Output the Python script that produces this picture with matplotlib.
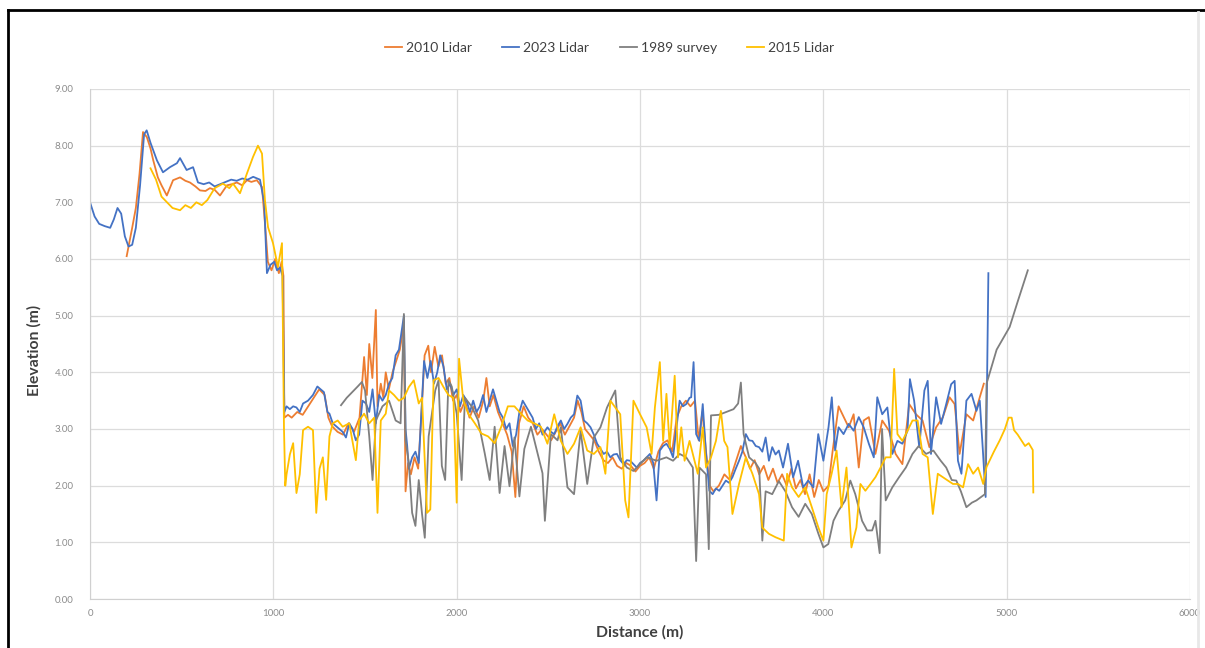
import numpy as np
import matplotlib.pyplot as plt
from matplotlib.lines import Line2D

plt.rcParams['font.family'] = ['Lato', 'DejaVu Sans']

# 2010 Lidar profile
x_2010 = [200, 215, 230, 250, 270, 289, 310, 330, 345, 370, 390, 419, 453, 491, 520, 545, 575, 600,
          630, 654, 680, 709, 747, 775, 801, 830, 856, 880, 910, 938, 955, 970, 990, 1010, 1030, 1045,
          1055, 1060, 1080, 1100, 1130, 1160, 1190, 1220, 1250, 1280, 1300, 1320, 1350, 1380, 1410,
          1440, 1470, 1495, 1510, 1523, 1540, 1559, 1568, 1586, 1600, 1613, 1630, 1650, 1670, 1690,
          1705, 1712, 1721, 1735, 1750, 1770, 1790, 1810, 1825, 1845, 1860, 1880, 1900, 1920, 1940,
          1960, 1980, 2000, 2020, 2045, 2070, 2095, 2120, 2145, 2162, 2180, 2200, 2225, 2250, 2275,
          2300, 2320, 2340, 2365, 2390, 2415, 2440, 2465, 2490, 2515, 2540, 2565, 2590, 2615, 2640,
          2660, 2680, 2700, 2725, 2750, 2775, 2800, 2825, 2850, 2875, 2900, 2925, 2950, 2975, 3000,
          3025, 3050, 3075, 3100, 3125, 3150, 3175, 3200, 3225, 3250, 3275, 3300, 3320, 3340, 3360,
          3380, 3400, 3430, 3460, 3490, 3520, 3550, 3577, 3600, 3625, 3650, 3675, 3700, 3725, 3750,
          3775, 3800, 3825, 3850, 3875, 3900, 3925, 3950, 3975, 4000, 4028, 4050, 4083, 4110, 4138,
          4165, 4193, 4220, 4248, 4284, 4321, 4358, 4394, 4431, 4468, 4505, 4541, 4578, 4615, 4652,
          4688, 4716, 4743, 4780, 4817, 4853, 4875]
y_2010 = [6.05, 6.30, 6.55, 6.90, 7.50, 8.24, 8.15, 7.95, 7.74, 7.44, 7.30, 7.12, 7.39, 7.44, 7.38,
          7.35, 7.28, 7.21, 7.20, 7.25, 7.22, 7.12, 7.30, 7.32, 7.35, 7.30, 7.39, 7.36, 7.39, 7.27,
          6.60, 5.95, 5.80, 6.00, 5.75, 5.95, 5.70, 3.20, 3.25, 3.20, 3.30, 3.25, 3.40, 3.55, 3.70,
          3.60, 3.20, 3.05, 2.95, 2.90, 3.10, 2.95, 3.20, 4.27, 3.60, 4.50, 3.90, 5.10, 3.40, 3.80,
          3.55, 4.00, 3.70, 4.00, 4.20, 4.40, 4.70, 4.90, 1.90, 2.40, 2.20, 2.50, 2.30, 3.40, 4.30,
          4.47, 4.00, 4.45, 4.10, 4.30, 3.80, 3.90, 3.50, 3.60, 3.30, 3.50, 3.20, 3.40, 3.20, 3.50,
          3.90, 3.40, 3.60, 3.30, 3.10, 2.90, 2.60, 1.80, 3.10, 3.40, 3.20, 3.10, 2.90, 3.00, 2.90,
          2.80, 2.95, 3.10, 2.90, 3.05, 3.20, 3.50, 3.30, 3.00, 2.90, 2.80, 2.60, 2.45, 2.40, 2.50,
          2.35, 2.30, 2.40, 2.35, 2.25, 2.35, 2.40, 2.50, 2.30, 2.60, 2.75, 2.80, 2.60, 3.20, 3.40,
          3.50, 3.40, 3.50, 2.80, 3.30, 2.60, 2.00, 1.90, 2.00, 2.20, 2.10, 2.40, 2.70, 2.50, 2.30,
          2.45, 2.20, 2.35, 2.10, 2.30, 2.05, 2.20, 2.00, 2.30, 1.95, 2.10, 1.85, 2.20, 1.80, 2.10,
          1.90, 2.00, 2.60, 3.40, 3.22, 3.03, 3.26, 2.32, 3.15, 3.21, 2.56, 3.15, 2.97, 2.56, 2.38,
          3.44, 3.26, 3.15, 2.68, 3.03, 3.21, 3.56, 3.44, 2.56, 3.26, 3.15, 3.56, 3.80]

# 2023 Lidar profile
x_2023 = [0, 25, 50, 80, 110, 130, 150, 170, 190, 210, 230, 250, 273, 295, 309, 330, 365, 398, 436,
          474, 491, 527, 562, 589, 620, 650, 680, 710, 740, 770, 800, 830, 860, 890, 927, 950, 965,
          985, 1005, 1020, 1036, 1050, 1060, 1072, 1090, 1108, 1126, 1144, 1162, 1189, 1216, 1240,
          1258, 1276, 1295, 1306, 1324, 1342, 1360, 1378, 1396, 1414, 1432, 1450, 1468, 1486, 1505,
          1523, 1541, 1559, 1577, 1595, 1613, 1631, 1649, 1667, 1685, 1703, 1712, 1721, 1730, 1739,
          1757, 1775, 1793, 1811, 1822, 1840, 1858, 1876, 1894, 1910, 1928, 1946, 1964, 1982, 2000,
          2018, 2036, 2054, 2072, 2090, 2108, 2126, 2144, 2162, 2180, 2198, 2216, 2234, 2252, 2270,
          2288, 2306, 2324, 2342, 2360, 2378, 2396, 2414, 2432, 2450, 2468, 2495, 2514, 2532, 2550,
          2568, 2586, 2604, 2622, 2640, 2658, 2676, 2694, 2712, 2730, 2748, 2766, 2784, 2802, 2820,
          2838, 2856, 2874, 2892, 2910, 2928, 2946, 2964, 2982, 3000, 3018, 3036, 3054, 3072, 3090,
          3108, 3126, 3144, 3162, 3180, 3198, 3216, 3234, 3252, 3270, 3279, 3292, 3306, 3324, 3342,
          3360, 3378, 3396, 3414, 3432, 3450, 3468, 3486, 3504, 3522, 3540, 3558, 3577, 3595, 3613,
          3631, 3649, 3667, 3685, 3703, 3721, 3739, 3757, 3780, 3807, 3835, 3862, 3890, 3917, 3945,
          3972, 4000, 4028, 4046, 4064, 4083, 4110, 4138, 4165, 4193, 4220, 4248, 4275, 4294, 4321,
          4349, 4376, 4404, 4431, 4459, 4472, 4495, 4523, 4551, 4569, 4587, 4615, 4642, 4670, 4697,
          4716, 4734, 4753, 4780, 4808, 4835, 4853, 4870, 4885, 4900]
y_2023 = [7.00, 6.75, 6.62, 6.58, 6.55, 6.70, 6.90, 6.80, 6.40, 6.22, 6.25, 6.55, 7.30, 8.20, 8.27,
          8.05, 7.74, 7.53, 7.62, 7.69, 7.78, 7.57, 7.62, 7.35, 7.32, 7.35, 7.28, 7.32, 7.36, 7.40,
          7.38, 7.42, 7.40, 7.45, 7.40, 7.00, 5.75, 5.90, 5.95, 5.80, 5.85, 5.70, 3.30, 3.40, 3.35,
          3.40, 3.38, 3.30, 3.45, 3.50, 3.60, 3.75, 3.70, 3.65, 3.30, 3.27, 3.10, 3.05, 3.00, 2.95,
          2.85, 3.10, 3.00, 2.80, 2.90, 3.50, 3.45, 3.30, 3.70, 3.10, 3.60, 3.50, 3.60, 3.80, 3.90,
          4.30, 4.40, 4.80, 5.00, 3.00, 2.70, 2.30, 2.50, 2.60, 2.40, 3.50, 4.20, 3.90, 4.20, 3.80,
          4.00, 4.30, 4.10, 3.70, 3.80, 3.60, 3.70, 3.40, 3.60, 3.50, 3.30, 3.50, 3.30, 3.40, 3.60,
          3.30, 3.50, 3.70, 3.50, 3.30, 3.20, 3.00, 3.10, 2.70, 2.90, 3.30, 3.50, 3.40, 3.30, 3.20,
          3.00, 3.10, 2.90, 3.03, 2.95, 2.91, 3.05, 3.15, 3.00, 3.09, 3.20, 3.26, 3.59, 3.50, 3.15,
          3.10, 3.03, 2.90, 2.74, 2.65, 2.56, 2.60, 2.50, 2.55, 2.56, 2.45, 2.38, 2.45, 2.44, 2.38,
          2.32, 2.40, 2.44, 2.50, 2.56, 2.40, 1.74, 2.62, 2.70, 2.74, 2.65, 2.50, 3.00, 3.50, 3.40,
          3.44, 3.55, 3.56, 4.18, 2.91, 2.79, 3.44, 2.56, 1.91, 1.85, 1.95, 1.91, 2.00, 2.09, 2.05,
          2.15, 2.30, 2.44, 2.60, 2.91, 2.80, 2.79, 2.70, 2.68, 2.60, 2.85, 2.44, 2.68, 2.55, 2.62,
          2.32, 2.74, 2.15, 2.44, 1.97, 2.09, 1.97, 2.91, 2.44, 3.03, 3.56, 2.62, 3.03, 2.91, 3.09,
          2.97, 3.21, 3.03, 2.74, 2.50, 3.56, 3.26, 3.38, 2.56, 2.79, 2.74, 2.97, 3.88, 3.50, 2.68,
          3.68, 3.85, 2.56, 3.56, 3.09, 3.44, 3.79, 3.85, 2.44, 2.21, 3.50, 3.62, 3.32, 3.50, 2.62,
          1.80, 5.75]

# 1989 survey profile
x_1989 = [1369, 1400, 1430, 1460, 1483, 1500, 1523, 1541, 1559, 1595, 1631, 1667, 1694, 1712, 1721,
          1739, 1757, 1775, 1793, 1811, 1826, 1847, 1865, 1883, 1901, 1919, 1937, 1955, 1973, 2000,
          2027, 2045, 2081, 2117, 2153, 2180, 2207, 2234, 2261, 2288, 2315, 2342, 2369, 2405, 2441,
          2468, 2481, 2514, 2550, 2568, 2604, 2640, 2676, 2712, 2748, 2784, 2820, 2865, 2892, 2928,
          2964, 3000, 3036, 3090, 3144, 3180, 3216, 3252, 3288, 3306, 3324, 3360, 3375, 3387, 3430,
          3470, 3510, 3535, 3550, 3565, 3595, 3630, 3650, 3667, 3685, 3721, 3757, 3793, 3829, 3865,
          3901, 3937, 3973, 4000, 4027, 4055, 4083, 4119, 4147, 4174, 4211, 4239, 4266, 4284, 4307,
          4320, 4340, 4376, 4413, 4450, 4486, 4520, 4560, 4600, 4640, 4670, 4700, 4725, 4750, 4780,
          4810, 4835, 4860, 4881, 4890, 4945, 5016, 5060, 5115]
y_1989 = [3.42, 3.55, 3.65, 3.75, 3.83, 3.68, 2.87, 2.10, 3.15, 3.40, 3.50, 3.15, 3.10, 5.03, 2.80,
          2.40, 1.52, 1.29, 2.10, 1.50, 1.08, 2.87, 3.27, 3.68, 3.86, 2.35, 2.10, 3.86, 3.75, 3.27,
          2.10, 3.55, 3.40, 3.15, 2.57, 2.10, 3.04, 1.87, 2.70, 1.99, 2.85, 1.81, 2.65, 3.04, 2.57,
          2.22, 1.38, 2.91, 2.80, 3.03, 1.97, 1.85, 2.97, 2.03, 2.85, 3.03, 3.38, 3.68, 2.50, 2.32,
          2.26, 2.38, 2.50, 2.44, 2.50, 2.44, 2.56, 2.50, 2.32, 0.67, 2.32, 2.20, 0.88, 3.24, 3.25,
          3.30, 3.35, 3.45, 3.82, 2.91, 2.50, 2.40, 2.30, 1.03, 1.90, 1.85, 2.08, 1.90, 1.62, 1.45,
          1.68, 1.50, 1.15, 0.91, 0.97, 1.38, 1.56, 1.74, 2.09, 1.85, 1.38, 1.21, 1.21, 1.38, 0.81,
          3.00, 1.74, 1.97, 2.15, 2.32, 2.56, 2.70, 2.56, 2.62, 2.44, 2.32, 2.10, 2.09, 1.90, 1.62,
          1.70, 1.74, 1.80, 1.85, 3.80, 4.40, 4.80, 5.25, 5.80]

# 2015 Lidar profile
x_2015 = [330, 360, 390, 420, 450, 491, 520, 550, 580, 610, 640, 680, 725, 760, 780, 818, 856, 889,
          916, 938, 954, 971, 998, 1025, 1047, 1058, 1065, 1072, 1090, 1108, 1126, 1144, 1162, 1189,
          1216, 1234, 1252, 1270, 1288, 1306, 1324, 1351, 1378, 1414, 1450, 1468, 1495, 1523, 1550,
          1568, 1586, 1613, 1631, 1658, 1685, 1712, 1739, 1766, 1793, 1811, 1838, 1856, 1874, 1901,
          1928, 1955, 1982, 2000, 2013, 2036, 2063, 2099, 2135, 2171, 2207, 2243, 2279, 2315, 2351,
          2387, 2423, 2459, 2495, 2532, 2568, 2604, 2640, 2676, 2712, 2748, 2784, 2811, 2838, 2865,
          2892, 2919, 2937, 2964, 3000, 3036, 3063, 3081, 3108, 3126, 3144, 3162, 3189, 3207, 3225,
          3243, 3270, 3288, 3315, 3342, 3360, 3387, 3414, 3441, 3459, 3477, 3504, 3540, 3577, 3613,
          3649, 3667, 3703, 3739, 3784, 3802, 3829, 3865, 3901, 3937, 3973, 4000, 4018, 4045, 4072,
          4099, 4126, 4153, 4180, 4202, 4229, 4257, 4284, 4312, 4340, 4367, 4386, 4404, 4431, 4459,
          4486, 4514, 4541, 4569, 4597, 4624, 4651, 4679, 4707, 4734, 4762, 4789, 4817, 4844, 4872,
          4890, 4930, 4962, 4990, 5010, 5027, 5040, 5060, 5080, 5100, 5120, 5142, 5145]
y_2015 = [7.60, 7.40, 7.10, 7.00, 6.90, 6.86, 6.95, 6.90, 7.00, 6.95, 7.04, 7.25, 7.33, 7.25, 7.33,
          7.16, 7.51, 7.80, 8.00, 7.86, 7.04, 6.56, 6.28, 5.86, 6.28, 3.00, 2.00, 2.20, 2.55, 2.75,
          1.87, 2.20, 2.98, 3.04, 2.98, 1.52, 2.30, 2.50, 1.75, 2.87, 3.10, 3.15, 3.04, 3.10, 2.45,
          3.15, 3.27, 3.10, 3.20, 1.52, 3.15, 3.27, 3.68, 3.60, 3.50, 3.55, 3.74, 3.86, 3.45, 3.55,
          1.52, 1.58, 3.86, 3.90, 3.74, 3.60, 3.55, 1.70, 4.24, 3.50, 3.27, 3.10, 2.92, 2.87, 2.75,
          3.04, 3.40, 3.40, 3.27, 3.15, 3.10, 3.04, 2.74, 3.26, 2.79, 2.56, 2.74, 3.03, 2.62, 2.56,
          2.68, 2.21, 3.50, 3.38, 3.26, 1.74, 1.44, 3.50, 3.26, 3.03, 2.56, 3.38, 4.18, 2.79, 3.62,
          2.68, 3.94, 2.50, 3.03, 2.44, 2.79, 2.56, 2.21, 3.03, 2.32, 2.50, 2.79, 3.32, 2.79, 2.68,
          1.50, 2.03, 2.50, 2.21, 1.85, 1.26, 1.15, 1.09, 1.03, 2.21, 1.97, 1.80, 1.97, 1.62, 1.26,
          1.03, 1.85, 2.21, 2.62, 1.62, 2.32, 0.91, 1.26, 2.03, 1.91, 2.03, 2.15, 2.32, 2.50, 2.50,
          4.06, 2.91, 2.79, 2.97, 3.15, 3.15, 2.56, 2.50, 1.50, 2.21, 2.15, 2.09, 2.03, 2.03, 1.97,
          2.38, 2.21, 2.32, 2.03, 2.33, 2.60, 2.80, 3.00, 3.20, 3.20, 2.98, 2.90, 2.80, 2.70, 2.75,
          2.63, 1.88]

fig = plt.figure(figsize=(12.05, 6.48), dpi=100)
ax = fig.add_axes([0.0747, 0.0756, 0.9129, 0.7871])

ax.plot(x_2010, y_2010, color='#ED7D31', lw=1.3, label='2010 Lidar')
ax.plot(x_2023, y_2023, color='#4472C4', lw=1.3, label='2023 Lidar')
ax.plot(x_1989, y_1989, color='#7F7F7F', lw=1.3, label='1989 survey')
ax.plot(x_2015, y_2015, color='#FFC000', lw=1.3, label='2015 Lidar')

ax.set_xlim(0, 6000)
ax.set_ylim(0, 9)
ax.set_xticks(np.arange(0, 6001, 1000))
ax.set_yticks(np.arange(0, 9.01, 1))
ax.set_yticklabels(['%.2f' % v for v in np.arange(0, 9.01, 1)])
ax.tick_params(axis='both', length=0, labelsize=7, labelcolor='#8c8c8c')
ax.tick_params(axis='x', pad=7)
ax.tick_params(axis='y', pad=12)
ax.grid(True, color='#dcdcdc', lw=0.9)
ax.set_axisbelow(True)
for side in ['top', 'right']:
    ax.spines[side].set_visible(False)
for side in ['left', 'bottom']:
    ax.spines[side].set_color('#d0d0d0')

ax.set_xlabel('Distance (m)', fontsize=11.3, fontweight='bold', color='#404040')
ax.set_ylabel('Elevation (m)', fontsize=11.3, fontweight='bold', color='#404040')
ax.xaxis.set_label_coords(0.5, -0.052)
ax.yaxis.set_label_coords(-0.0436, 0.488)

fig.legend(loc='center', bbox_to_anchor=(0.506, 0.926), ncol=4, frameon=False,
           fontsize=10, handlelength=1.2, handletextpad=0.3, columnspacing=2.2,
           labelcolor='#404040')

# screenshot border
fig.add_artist(Line2D([0.0066, 0.0066], [0, 0.985], color='black', lw=2))
fig.add_artist(Line2D([0.0066, 1], [0.985, 0.985], color='black', lw=2))
fig.add_artist(Line2D([0.994, 0.994], [0, 0.982], color='#e8e8e8', lw=2))

fig.savefig('out.png', dpi=100)
